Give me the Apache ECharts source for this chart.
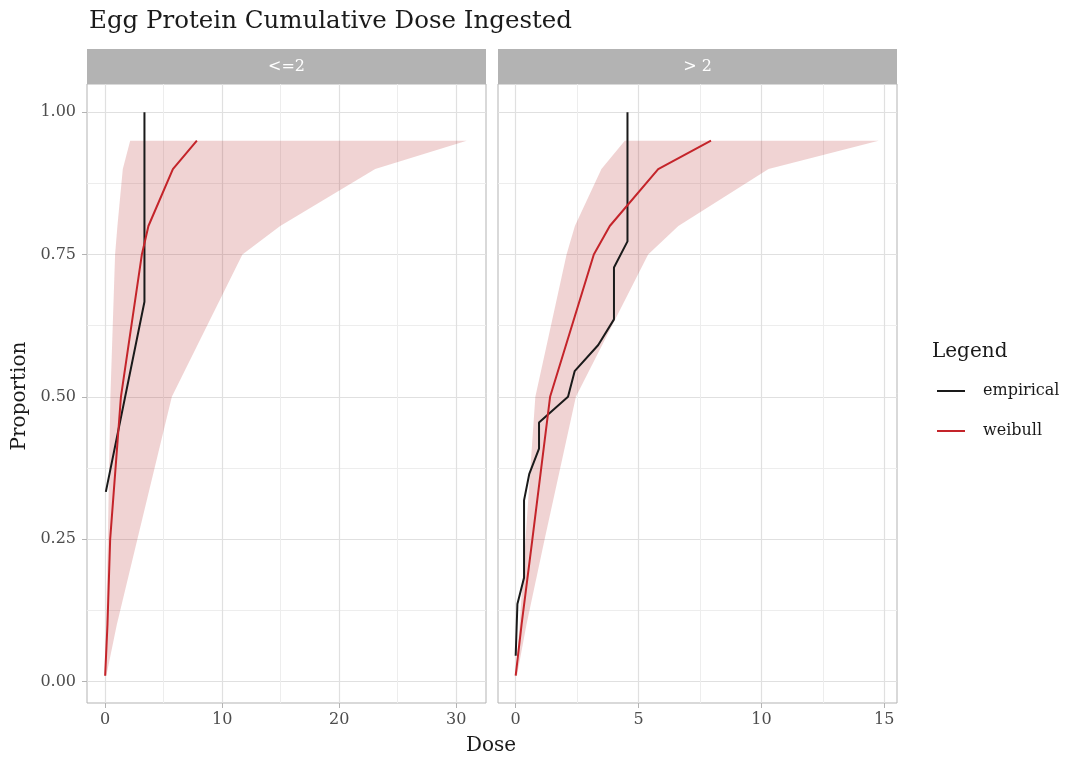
<!DOCTYPE html>
<html lang="en">
<head>
    <meta charset="utf-8">
    <title>Egg Protein Cumulative Dose Ingested</title>
    <script src="https://cdn.jsdelivr.net/npm/echarts@6/dist/echarts.min.js"></script>
    <style>
        html, body { margin: 0; padding: 0; background: #fff; }
        #chart { width: 1067px; height: 765px; }
    </style>
</head>
<body>
<div id="chart"></div>
<script type="text/javascript">
    // facet labels
    var panelNames = ['<=2', '> 2'];

    // quantile levels of the fitted band / weibull curve
    var fitProb = [0.01, 0.1, 0.25, 0.5, 0.75, 0.8, 0.9, 0.95];

    // panel "<=2"
    var leLower = [0.0, 0.08, 0.23, 0.45, 0.85, 1.05, 1.51, 2.14];
    var leUpper = [0.1, 1.0, 2.76, 5.7, 11.73, 14.96, 23.08, 30.9];
    var leWeibull = [0.0, 0.2, 0.43, 1.35, 3.14, 3.7, 5.79, 7.84];
    var leEmpDose = [0.06, 3.36, 3.36];
    var leEmpProb = [0.333, 0.667, 1.0];

    // panel "> 2"
    var gtLower = [0.0, 0.16, 0.4, 0.8, 2.07, 2.41, 3.49, 4.44];
    var gtUpper = [0.05, 0.44, 1.18, 2.45, 5.39, 6.62, 10.29, 14.77];
    var gtWeibull = [0.0, 0.24, 0.68, 1.4, 3.18, 3.83, 5.8, 7.95];
    var gtEmpDose = [0.0, 0.07, 0.34, 0.34, 0.55, 0.95, 0.95, 2.13, 2.4, 3.36, 4.0, 4.0, 4.55, 4.55];
    var gtEmpProb = [0.045, 0.136, 0.182, 0.318, 0.364, 0.409, 0.455, 0.5, 0.545, 0.591, 0.636, 0.727, 0.773, 1.0];

    // tick labels
    var yTicks = [0, 0.25, 0.5, 0.75, 1];
    var yMinor = [0.125, 0.375, 0.625, 0.875];
    var leXTicks = [0, 10, 20, 30];
    var leXMinor = [5, 15, 25];
    var gtXTicks = [0, 5, 10, 15];
    var gtXMinor = [2.5, 7.5, 12.5];

    var FONT = 'DejaVu Serif';
    var RED = '#c4242a';
    var BLACK = '#1a1a1a';
    var BAND = 'rgba(178,34,34,0.2)';

    function pairs(xs, ys) {
        var out = [];
        for (var i = 0; i < xs.length; i++) {
            out.push([xs[i], ys[i]]);
        }
        return out;
    }

    function bandSeries(idx, lower, upper) {
        return {
            type: 'custom',
            xAxisIndex: idx * 2,
            yAxisIndex: idx * 2,
            silent: true,
            z: 1,
            data: [[lower[0], fitProb[0]]],
            renderItem: function (params, api) {
                var pts = [];
                for (var i = 0; i < fitProb.length; i++) {
                    pts.push(api.coord([lower[i], fitProb[i]]));
                }
                for (var j = fitProb.length - 1; j >= 0; j--) {
                    pts.push(api.coord([upper[j], fitProb[j]]));
                }
                return {
                    type: 'polygon',
                    shape: {points: pts},
                    style: {fill: BAND}
                };
            }
        };
    }

    function lineSeries(idx, name, data, color) {
        return {
            name: name,
            type: 'line',
            xAxisIndex: idx * 2,
            yAxisIndex: idx * 2,
            data: data,
            showSymbol: false,
            symbol: 'none',
            z: name === 'weibull' ? 4 : 3,
            lineStyle: {color: color, width: 2},
            itemStyle: {color: color}
        };
    }

    function xAxes(gridIdx, min, max, ticks, minor, showLabel) {
        return [
            {
                type: 'value', gridIndex: gridIdx, min: min, max: max, position: 'bottom',
                axisLine: {show: false, onZero: false},
                axisTick: {show: true, length: 5, customValues: ticks, lineStyle: {color: '#b3b3b3'}},
                axisLabel: {show: showLabel, customValues: ticks, margin: 9, color: '#4d4d4d',
                    fontFamily: FONT, fontSize: 16},
                splitLine: {show: true, lineStyle: {color: '#e0e0e0', width: 1.2}}
            },
            {
                type: 'value', gridIndex: gridIdx, min: min, max: max, position: 'bottom',
                axisLine: {show: false, onZero: false},
                axisTick: {show: false, customValues: minor},
                axisLabel: {show: false, customValues: minor},
                splitLine: {show: true, lineStyle: {color: '#ededed', width: 1}}
            }
        ];
    }

    function yAxes(gridIdx, showLabel) {
        return [
            {
                type: 'value', gridIndex: gridIdx, min: -0.038, max: 1.0495, position: 'left',
                axisLine: {show: false, onZero: false},
                axisTick: {show: showLabel, length: 5, customValues: yTicks, lineStyle: {color: '#b3b3b3'}},
                axisLabel: {show: showLabel, customValues: yTicks, margin: 11, color: '#4d4d4d',
                    fontFamily: FONT, fontSize: 16,
                    formatter: function (v) { return v.toFixed(2); }},
                splitLine: {show: true, lineStyle: {color: '#e0e0e0', width: 1.2}}
            },
            {
                type: 'value', gridIndex: gridIdx, min: -0.038, max: 1.0495, position: 'left',
                axisLine: {show: false, onZero: false},
                axisTick: {show: false, customValues: yMinor},
                axisLabel: {show: false, customValues: yMinor},
                splitLine: {show: true, lineStyle: {color: '#ededed', width: 1}}
            }
        ];
    }

    function stripGraphic(left, width, label) {
        return [
            {
                type: 'rect', left: left, top: 49,
                shape: {width: width, height: 35},
                style: {fill: '#b3b3b3'}
            },
            {
                type: 'text', x: left + width / 2, y: 66.5,
                style: {text: label, fill: '#ffffff', font: '16px "' + FONT + '"',
                    align: 'center', verticalAlign: 'middle'}
            }
        ];
    }

    var myChart = echarts.init(document.getElementById('chart'), null, {renderer: 'canvas'});

    var option = {
        backgroundColor: '#ffffff',
        animation: false,
        title: {
            text: 'Egg Protein Cumulative Dose Ingested',
            left: 84, top: 4,
            textStyle: {fontFamily: FONT, fontWeight: 'normal', fontSize: 24.5, color: '#1a1a1a'}
        },
        legend: {
            data: ['empirical', 'weibull'],
            orient: 'vertical',
            left: 937, top: 381,
            padding: 0,
            icon: 'rect',
            itemWidth: 28, itemHeight: 2,
            itemGap: 20,
            textStyle: {fontFamily: FONT, fontSize: 16, color: '#1a1a1a', lineHeight: 20,
                padding: [0, 0, 0, 13]}
        },
        grid: [
            {left: 87, top: 84, width: 399, height: 619, show: true,
                borderColor: '#b3b3b3', borderWidth: 1, backgroundColor: '#ffffff'},
            {left: 498, top: 84, width: 399, height: 619, show: true,
                borderColor: '#b3b3b3', borderWidth: 1, backgroundColor: '#ffffff'}
        ],
        xAxis: xAxes(0, -1.55, 32.55, leXTicks, leXMinor, true)
            .concat(xAxes(1, -0.72, 15.52, gtXTicks, gtXMinor, true)),
        yAxis: yAxes(0, true).concat(yAxes(1, false)),
        graphic: stripGraphic(87, 399, panelNames[0])
            .concat(stripGraphic(498, 399, panelNames[1]))
            .concat([
                {
                    type: 'text', x: 491, y: 746,
                    style: {text: 'Dose', fill: '#1a1a1a', font: '20px "' + FONT + '"',
                        align: 'center', verticalAlign: 'middle'}
                },
                {
                    type: 'text', x: 20, y: 396, rotation: Math.PI / 2,
                    style: {text: 'Proportion', fill: '#1a1a1a', font: '20px "' + FONT + '"',
                        align: 'center', verticalAlign: 'middle'}
                },
                {
                    type: 'text', x: 932, y: 352,
                    style: {text: 'Legend', fill: '#1a1a1a', font: '20px "' + FONT + '"',
                        align: 'left', verticalAlign: 'middle'}
                }
            ]),
        series: [
            bandSeries(0, leLower, leUpper),
            lineSeries(0, 'empirical', pairs(leEmpDose, leEmpProb), BLACK),
            lineSeries(0, 'weibull', pairs(leWeibull, fitProb), RED),
            bandSeries(1, gtLower, gtUpper),
            lineSeries(1, 'empirical', pairs(gtEmpDose, gtEmpProb), BLACK),
            lineSeries(1, 'weibull', pairs(gtWeibull, fitProb), RED)
        ]
    };

    myChart.setOption(option);
</script>
</body>
</html>
